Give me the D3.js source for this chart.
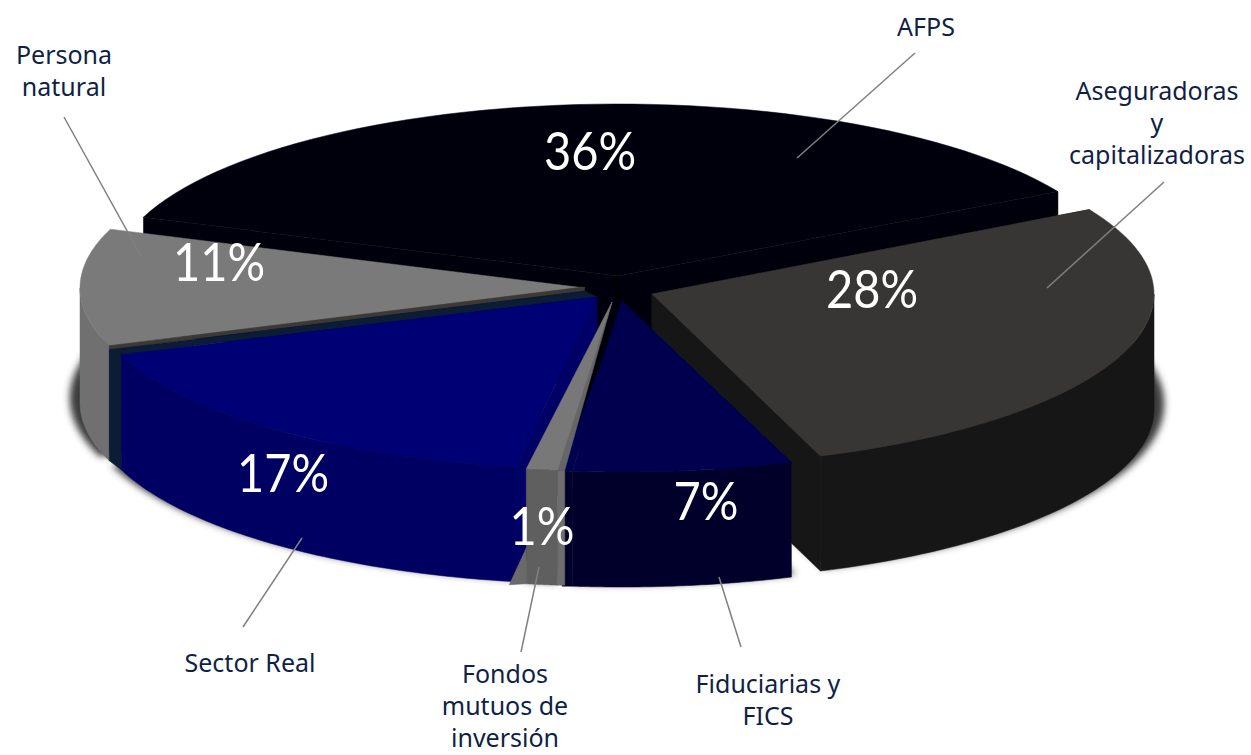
<!DOCTYPE html>
<html><head><meta charset="utf-8">
<script src="https://cdn.jsdelivr.net/npm/d3@7/dist/d3.min.js"></script>
<style>html,body{margin:0;padding:0;background:#fff}svg{display:block}</style>
</head><body><div id="chart"></div>
<script>
// ---- data ----
const categories = ["AFPS","Aseguradoras y capitalizadoras","Fiduciarias y FICS","Fondos mutuos de inversión","Sector Real","Persona natural"];
const values = [36,28,7,1,17,11];
const labelLines = [["AFPS"],["Aseguradoras","y","capitalizadoras"],["Fiduciarias y","FICS"],["Fondos","mutuos de","inversión"],["Sector Real"],["Persona","natural"]];
// ---- layout ----
const W=1251,H=755,RX=505,RY=172,DEPTH=115,START=-70*Math.PI/180;
const centers=[[618,276],[652,294],[622,300],[607,299],[597,297],[585,288]];
const topCol=["#00000f","#393534","#00004f","#787878","#000074","#7a7a7a"];
const wallCol=["#000007","#171717","#00002c","#5f5f5f","#000062","#707070"];
const faceCol=["#000007","#181818","#00002c","#666666","#000066","#3b3835"];
const labelPos=[[926,36],[1157,100],[768,693],[505,683],[250,672],[64,64]];
const LABEL_STEP=32;
const pctPos=[[590,170],[872,308],[706,520],[542,545],[283,492],[219,281]];
const leaders=[[[915,53],[797,158]],[[1164,182],[1047,288]],[[741,647],[719,577]],[[521,652],[539,567]],[[243,627],[302,538]],[[64,117],[141,256]]];
const LABEL="#0f1f47";

const svg=d3.select("#chart").append("svg").attr("width",W).attr("height",H);
const defs=svg.append("defs");
defs.append("filter").attr("id","sh").attr("x","-10%").attr("y","-10%").attr("width","120%").attr("height","120%")
  .append("feGaussianBlur").attr("stdDeviation",3.5);
const softF=defs.append("filter").attr("id","soft");
softF.append("feGaussianBlur").attr("stdDeviation",0.45);

const arcs=d3.pie().value(d=>d).sort(null).startAngle(START).endAngle(START+2*Math.PI)(values);
// the reference's perspective moves this one boundary by about a degree
arcs[0].endAngle+=Math.PI/180; arcs[1].startAngle+=Math.PI/180;
const lineGen=d3.line();
const pt=(c,a,dy=0,rx=RX,ry=RY)=>[c[0]+rx*Math.sin(a),c[1]-ry*Math.cos(a)+dy];
const arcPts=(c,a0,a1,dy=0,rx=RX,ry=RY)=>d3.range(0,61).map(i=>pt(c,a0+(a1-a0)*i/60,dy,rx,ry));
const poly=(g,p,fill)=>g.append("path").attr("d",lineGen(p)+"Z").attr("fill",fill).attr("stroke",fill).attr("stroke-width",0.5);

// shadows
const gS=svg.append("g").attr("filter","url(#sh)");
arcs.forEach((d,i)=>{ if(i===0) return;
  const c=centers[i], s=[c[0],c[1]+DEPTH-5];
  poly(gS,[s,...arcPts(s,d.startAngle,d.endAngle,0,RX+(i===1?7:10),RY+2)],"#3a3a3a");
});

const root=svg.append("g").attr("filter","url(#soft)");
function drawWall(g,i,rx=RX){
  const d=arcs[i],c=centers[i];
  const a0=Math.max(d.startAngle,Math.PI/2),a1=Math.min(d.endAngle,3*Math.PI/2);
  if(a1>a0) poly(g,[...arcPts(c,a0,a1,0,rx),...arcPts(c,a0,a1,DEPTH,rx).reverse()],wallCol[i]);
}
function drawFace(g,i,a,rx=RX){
  const c=centers[i],e=pt(c,a,0,rx);
  poly(g,[c,e,[e[0],e[1]+DEPTH],[c[0],c[1]+DEPTH]],faceCol[i]);
}
function drawTop(g,i,apex,rx=RX){
  const d=arcs[i],c=centers[i];
  poly(g,[apex||c,...arcPts(c,d.startAngle,d.endAngle,0,rx)],topCol[i]);
}
// AFPS
{const g=root.append("g"),d=arcs[0];drawFace(g,0,d.startAngle);drawFace(g,0,d.endAngle);drawTop(g,0);}
// Persona natural
{const g=root.append("g");drawWall(g,5);drawTop(g,5);}
// strips behind Sector Real
{const g=root.append("g"),c=centers[5],e=pt(c,arcs[5].startAngle);
 poly(g,[[c[0]-2,c[1]-1],[e[0],e[1]],[e[0],e[1]+4],[c[0],c[1]+3]],faceCol[5]);
 const s=centers[4],se=pt(s,arcs[4].endAngle);
 poly(g,[[c[0],c[1]+3],[e[0],e[1]+4],[e[0],e[1]+DEPTH],[se[0],se[1]+DEPTH],se,s],"#0c1a36");}
// Aseguradoras (slightly narrower in the reference)
{const g=root.append("g"),d=arcs[1],rx=502;drawFace(g,1,d.startAngle,rx);drawWall(g,1,rx);drawFace(g,1,d.endAngle,rx);drawTop(g,1,null,rx);}
// Sector Real
{const g=root.append("g"),d=arcs[4];drawFace(g,4,d.startAngle);drawWall(g,4);drawTop(g,4);}
// Fiduciarias
{const g=root.append("g"),d=arcs[2],c=centers[2];
 const lft=pt(c,d.endAngle),x0=562;
 poly(g,[[612,302],[622,301],[x0,lft[1]]],"#000008");
 poly(g,[[x0,lft[1]],lft,[lft[0],lft[1]+DEPTH],[x0,lft[1]+DEPTH]],wallCol[2]);
 drawWall(g,2);
 poly(g,[[622,301],[x0+3,lft[1]],lft],topCol[2]);
 drawTop(g,2,[622,301]);}
// Fondos mutuos
{const g=root.append("g"),d=arcs[3],c=centers[3],apex=[612,302];
 const l=pt(c,d.endAngle),r=pt(c,d.startAngle);
 const b=[590,415],ba=pt(b,d.endAngle);
 poly(g,[[l[0],548],ba,[l[0],l[1]+DEPTH]],"#6a6a6a");
 poly(g,[...arcPts(c,d.startAngle,d.endAngle),...arcPts(c,d.startAngle,d.endAngle,DEPTH).reverse()],wallCol[3]);
 const re=[r[0]+7,r[1]];
 poly(g,[r,re,[re[0],re[1]+DEPTH],[r[0],r[1]+DEPTH]],"#6e6e6e");
 poly(g,[apex,re,r],faceCol[3]);
 drawTop(g,3,apex);}

// leader lines
svg.append("g").selectAll("path").data(leaders).join("path")
  .attr("d",d=>lineGen(d)).attr("fill","none").attr("stroke","#808080").attr("stroke-width",1.5);

// percentages (taller than wide in the reference)
svg.append("g").selectAll("text").data(values).join("text")
  .attr("transform",(d,i)=>`translate(${pctPos[i][0]},${pctPos[i][1]}) scale(1,1.1)`)
  .attr("text-anchor","middle").attr("fill","#fff")
  .attr("font-family","Lato,sans-serif").attr("font-size",47)
  .text(d=>d+"%");

// category labels
labelLines.forEach((lines,i)=>{
  const t=svg.append("text").attr("text-anchor","middle").attr("fill",LABEL)
    .attr("font-family","'Noto Sans',sans-serif").attr("font-size",25)
    .attr("aria-label",categories[i]);
  lines.forEach((s,j)=>t.append("tspan").attr("x",labelPos[i][0]).attr("y",labelPos[i][1]+j*LABEL_STEP).text(s));
});
</script></body></html>
